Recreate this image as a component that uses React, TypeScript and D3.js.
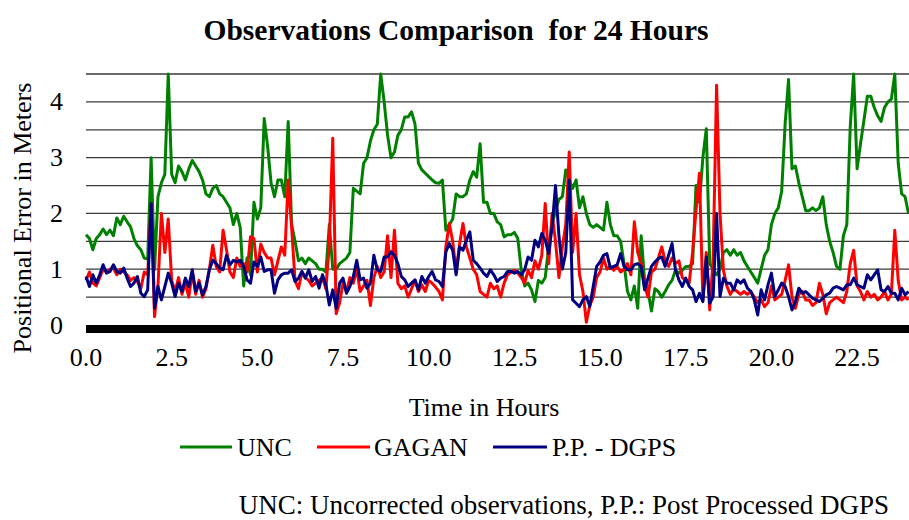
import React from "react";
import * as d3 from "d3";

// Time axis: one reading every 0.1 hour, 0.0 .. 24.0
const HOURS: number[] = d3.range(241).map((i) => i / 10);

const X_TICKS = [0, 2.5, 5, 7.5, 10, 12.5, 15, 17.5, 20, 22.5];
const Y_TICKS = [0, 1, 2, 3, 4];
const GRID_LEVELS = [0.5, 1, 1.5, 2, 2.5, 3, 3.5, 4, 4.5];

const SERIES_NAMES = ["UNC", "GAGAN", "P.P. - DGPS"];

const UNC = [
  1.62,1.55,1.35,1.55,1.62,1.72,1.62,1.70,1.60,1.92, 1.80,1.95,1.85,1.76,1.55,1.42,1.35,1.20,1.18,3.00,
  0.99,2.30,2.55,2.70,4.50,2.70,2.55,2.85,2.75,2.60, 2.80,2.95,2.85,2.75,2.60,2.35,2.30,2.45,2.50,2.35,
  2.30,2.20,2.10,1.80,2.00,1.75,0.70,1.20,0.90,2.20, 1.90,2.10,3.70,3.20,2.55,2.30,2.60,2.60,2.30,3.65,
  1.80,1.50,1.15,1.20,1.10,1.20,1.15,1.10,1.00,1.00, 0.95,1.80,1.00,1.00,1.10,1.15,1.20,1.30,2.45,2.40,
  2.35,2.90,3.00,3.30,3.50,3.60,4.50,4.00,3.40,3.00, 3.10,3.40,3.50,3.73,3.73,3.82,3.60,2.90,2.78,2.72,
  2.66,2.60,2.55,2.54,2.60,1.70,1.80,1.90,2.35,2.30, 2.30,2.35,2.60,2.75,2.65,3.25,2.20,2.20,2.00,2.00,
  1.85,1.80,1.58,1.62,1.62,1.66,1.55,0.99,0.70,0.75, 0.63,0.42,0.80,0.75,0.85,1.40,1.80,2.05,2.25,2.30,
  2.78,2.60,2.45,2.60,2.10,2.30,2.00,1.80,1.75,1.80, 1.75,1.70,2.20,1.80,1.60,1.60,1.50,1.10,0.60,0.45,
  0.70,0.30,1.60,0.80,0.60,0.25,0.65,0.60,0.50,0.60, 0.72,0.80,0.98,0.93,0.98,1.05,1.05,1.10,2.50,2.20,
  3.00,3.52,1.10,1.00,0.90,1.00,1.30,1.35,1.25,1.35, 1.25,1.30,1.15,1.05,0.95,0.85,0.75,1.00,1.25,1.35,
  1.80,2.00,2.10,2.40,3.60,4.40,2.80,2.85,2.55,2.30, 2.05,2.05,2.10,2.05,2.10,2.30,1.80,1.50,1.30,1.05,
  1.00,1.60,1.80,3.55,4.50,2.80,3.25,3.67,4.10,4.10, 3.90,3.75,3.65,3.90,4.00,4.05,4.50,2.90,2.35,2.30,
  2.00,
];

const GAGAN = [
  0.80,0.95,0.75,0.70,0.85,1.00,0.95,1.00,1.02,0.90, 1.00,0.95,0.90,0.80,0.85,0.78,0.65,0.95,0.90,2.15,
  0.15,0.70,2.00,1.30,1.90,0.80,0.60,0.85,0.55,0.75, 0.50,0.95,0.55,0.80,0.50,0.65,1.00,1.43,1.05,0.95,
  1.70,1.35,0.95,0.85,1.20,1.05,1.10,0.95,1.58,1.55, 0.95,1.45,1.30,1.20,1.20,0.90,1.15,1.40,1.25,2.60,
  1.75,0.80,0.65,0.95,0.85,0.80,0.70,0.75,0.80,0.85, 0.65,1.45,3.35,0.20,0.40,0.75,0.60,0.85,0.75,1.00,
  0.60,0.70,0.80,0.35,0.85,1.05,0.85,0.95,1.60,0.85, 1.70,0.75,0.65,0.70,0.50,0.65,0.80,0.60,0.72,0.60,
  0.80,0.75,0.68,0.60,0.45,1.40,1.82,1.50,0.95,1.45, 1.82,1.40,1.20,1.00,0.90,0.60,0.55,0.50,0.75,0.65,
  0.70,0.50,0.75,0.90,0.95,0.98,0.93,0.85,0.75,0.98, 0.85,1.15,1.00,1.25,2.18,1.10,2.00,1.50,0.85,1.40,
  1.80,3.10,1.30,2.00,0.90,0.60,0.05,0.35,0.50,0.85, 0.95,1.20,1.00,1.05,0.98,1.05,0.95,1.00,1.10,0.90,
  1.85,1.30,1.10,0.70,0.50,0.95,1.00,1.20,1.40,1.15, 1.05,1.20,1.10,1.15,0.85,0.80,0.75,1.30,2.06,2.72,
  0.45,1.30,0.27,1.20,4.30,2.00,0.98,0.70,0.55,0.65, 0.60,0.55,0.60,0.55,0.60,0.50,0.40,0.45,0.33,0.40,
  0.70,0.45,0.50,0.55,0.80,1.08,0.50,0.30,0.55,0.60, 0.45,0.45,0.35,0.40,0.75,0.55,0.20,0.40,0.45,0.50,
  0.45,0.40,0.60,1.10,1.34,0.70,0.60,0.45,0.60,0.50, 0.55,0.45,0.50,0.60,0.45,0.55,1.70,0.80,0.45,0.50,
  0.45,
];

const PP_DGPS = [
  0.87,0.69,0.90,0.75,0.90,1.08,0.93,0.96,1.08,0.96, 0.93,1.02,0.84,0.69,0.75,0.87,0.57,0.51,0.63,2.18,
  0.30,0.69,0.45,0.69,0.93,0.75,0.51,0.75,0.60,0.84, 0.69,0.99,0.60,0.75,0.54,0.69,0.99,1.16,1.10,1.02,
  0.99,1.25,1.08,1.16,1.13,1.16,1.05,0.81,0.75,1.13, 1.05,1.22,0.96,0.99,0.99,0.57,0.81,0.90,0.93,0.93,
  0.99,0.78,0.84,0.96,0.84,0.99,0.78,0.87,0.66,0.90, 0.72,0.36,0.63,0.30,0.75,0.84,0.57,0.69,0.87,1.16,
  0.81,0.84,0.66,0.75,1.25,0.99,0.96,1.22,1.22,1.31, 1.25,1.10,0.87,0.81,0.69,0.75,0.81,0.63,0.87,0.75,
  0.87,0.96,0.81,0.78,0.69,1.31,1.46,1.34,0.90,1.40, 1.34,1.52,1.67,1.16,1.10,1.02,0.93,0.87,0.99,0.90,
  0.78,0.84,0.87,0.96,0.96,0.93,0.96,0.90,0.99,1.22, 1.16,1.52,1.40,1.64,1.52,1.28,1.76,2.50,1.60,1.00,
  1.30,2.60,0.45,0.39,0.33,0.45,0.51,0.33,0.69,1.05, 1.13,1.25,1.28,1.02,1.05,1.08,1.28,1.05,0.99,0.99,
  1.08,1.10,1.05,0.63,0.84,1.05,1.13,1.19,1.22,1.05, 1.25,1.46,0.99,0.81,0.69,0.84,0.69,0.63,0.42,0.57,
  0.42,1.22,0.39,0.51,2.00,0.51,0.84,0.75,0.75,0.63, 0.81,0.75,0.81,0.66,0.60,0.45,0.18,0.63,0.45,0.72,
  0.93,0.51,0.63,0.75,0.69,0.51,0.27,0.42,0.66,0.57, 0.60,0.54,0.48,0.45,0.42,0.48,0.54,0.57,0.66,0.69,
  0.66,0.63,0.72,0.72,0.84,0.72,0.69,0.66,0.90,0.81, 0.90,0.99,0.63,0.60,0.69,0.57,0.57,0.45,0.66,0.54,
  0.60,
];

const COLORS = ["#008000", "#ff0000", "#000080"];
const FONT = "'Liberation Serif', 'Times New Roman', serif";

export default function App() {
  const W = 909;
  const H = 520;
  const plotLeft = 86;
  const plotRight = 909;
  const x = d3.scaleLinear().domain([0, 24]).range([86, 908.5]);
  const y = d3.scaleLinear().domain([0, 4.5]).range([325, 74]);

  const series = [UNC, GAGAN, PP_DGPS];
  const line = d3
    .line<number>()
    .x((_, i) => x(HOURS[i]))
    .y((d) => y(d));

  const legendItems = [
    { x1: 180, x2: 232, tx: 237 },
    { x1: 317, x2: 370, tx: 374 },
    { x1: 493, x2: 547, tx: 552 },
  ];

  return (
    <svg
      width={W}
      height={H}
      style={{ position: "absolute", left: 0, top: 0, background: "#fff" }}
      fontFamily={FONT}
    >
      <rect x={0} y={0} width={W} height={H} fill="#fff" />
      <text
        x={456}
        y={40}
        textAnchor="middle"
        fontSize={29.5}
        fontWeight="bold"
        fill="#000"
        xmlSpace="preserve"
        style={{ whiteSpace: "pre" }}
      >
        {"Observations Comparison  for 24 Hours"}
      </text>

      {GRID_LEVELS.map((g) => (
        <line
          key={g}
          x1={plotLeft}
          x2={plotRight}
          y1={y(g)}
          y2={y(g)}
          stroke="#3a3a3a"
          strokeWidth={1.3}
        />
      ))}

      {series.map((s, i) => (
        <path
          key={i}
          d={line(s) || ""}
          fill="none"
          stroke={COLORS[i]}
          strokeWidth={3}
          strokeLinejoin="round"
        />
      ))}

      <rect x={plotLeft} y={y(0)} width={plotRight - plotLeft} height={8} fill="#000" />

      {Y_TICKS.map((t) => (
        <text key={t} x={63} y={y(t) + 8.5} textAnchor="end" fontSize={26} fill="#000">
          {t}
        </text>
      ))}

      {X_TICKS.map((t) => (
        <text key={t} x={x(t)} y={366} textAnchor="middle" fontSize={26} fill="#000">
          {t.toFixed(1)}
        </text>
      ))}

      <text
        transform="translate(31,218) rotate(-90)"
        textAnchor="middle"
        fontSize={26}
        fill="#000"
      >
        Positional Error in Meters
      </text>

      <text x={484} y={416} textAnchor="middle" fontSize={26} fill="#000">
        Time in Hours
      </text>

      {legendItems.map((l, i) => (
        <g key={i}>
          <line x1={l.x1} x2={l.x2} y1={447} y2={447} stroke={COLORS[i]} strokeWidth={3} />
          <text x={l.tx} y={456} fontSize={26} fill="#000">
            {SERIES_NAMES[i]}
          </text>
        </g>
      ))}

      <text x={889} y={514} textAnchor="end" fontSize={27} fill="#000">
        UNC: Uncorrected observations, P.P.: Post Processed DGPS
      </text>
    </svg>
  );
}
